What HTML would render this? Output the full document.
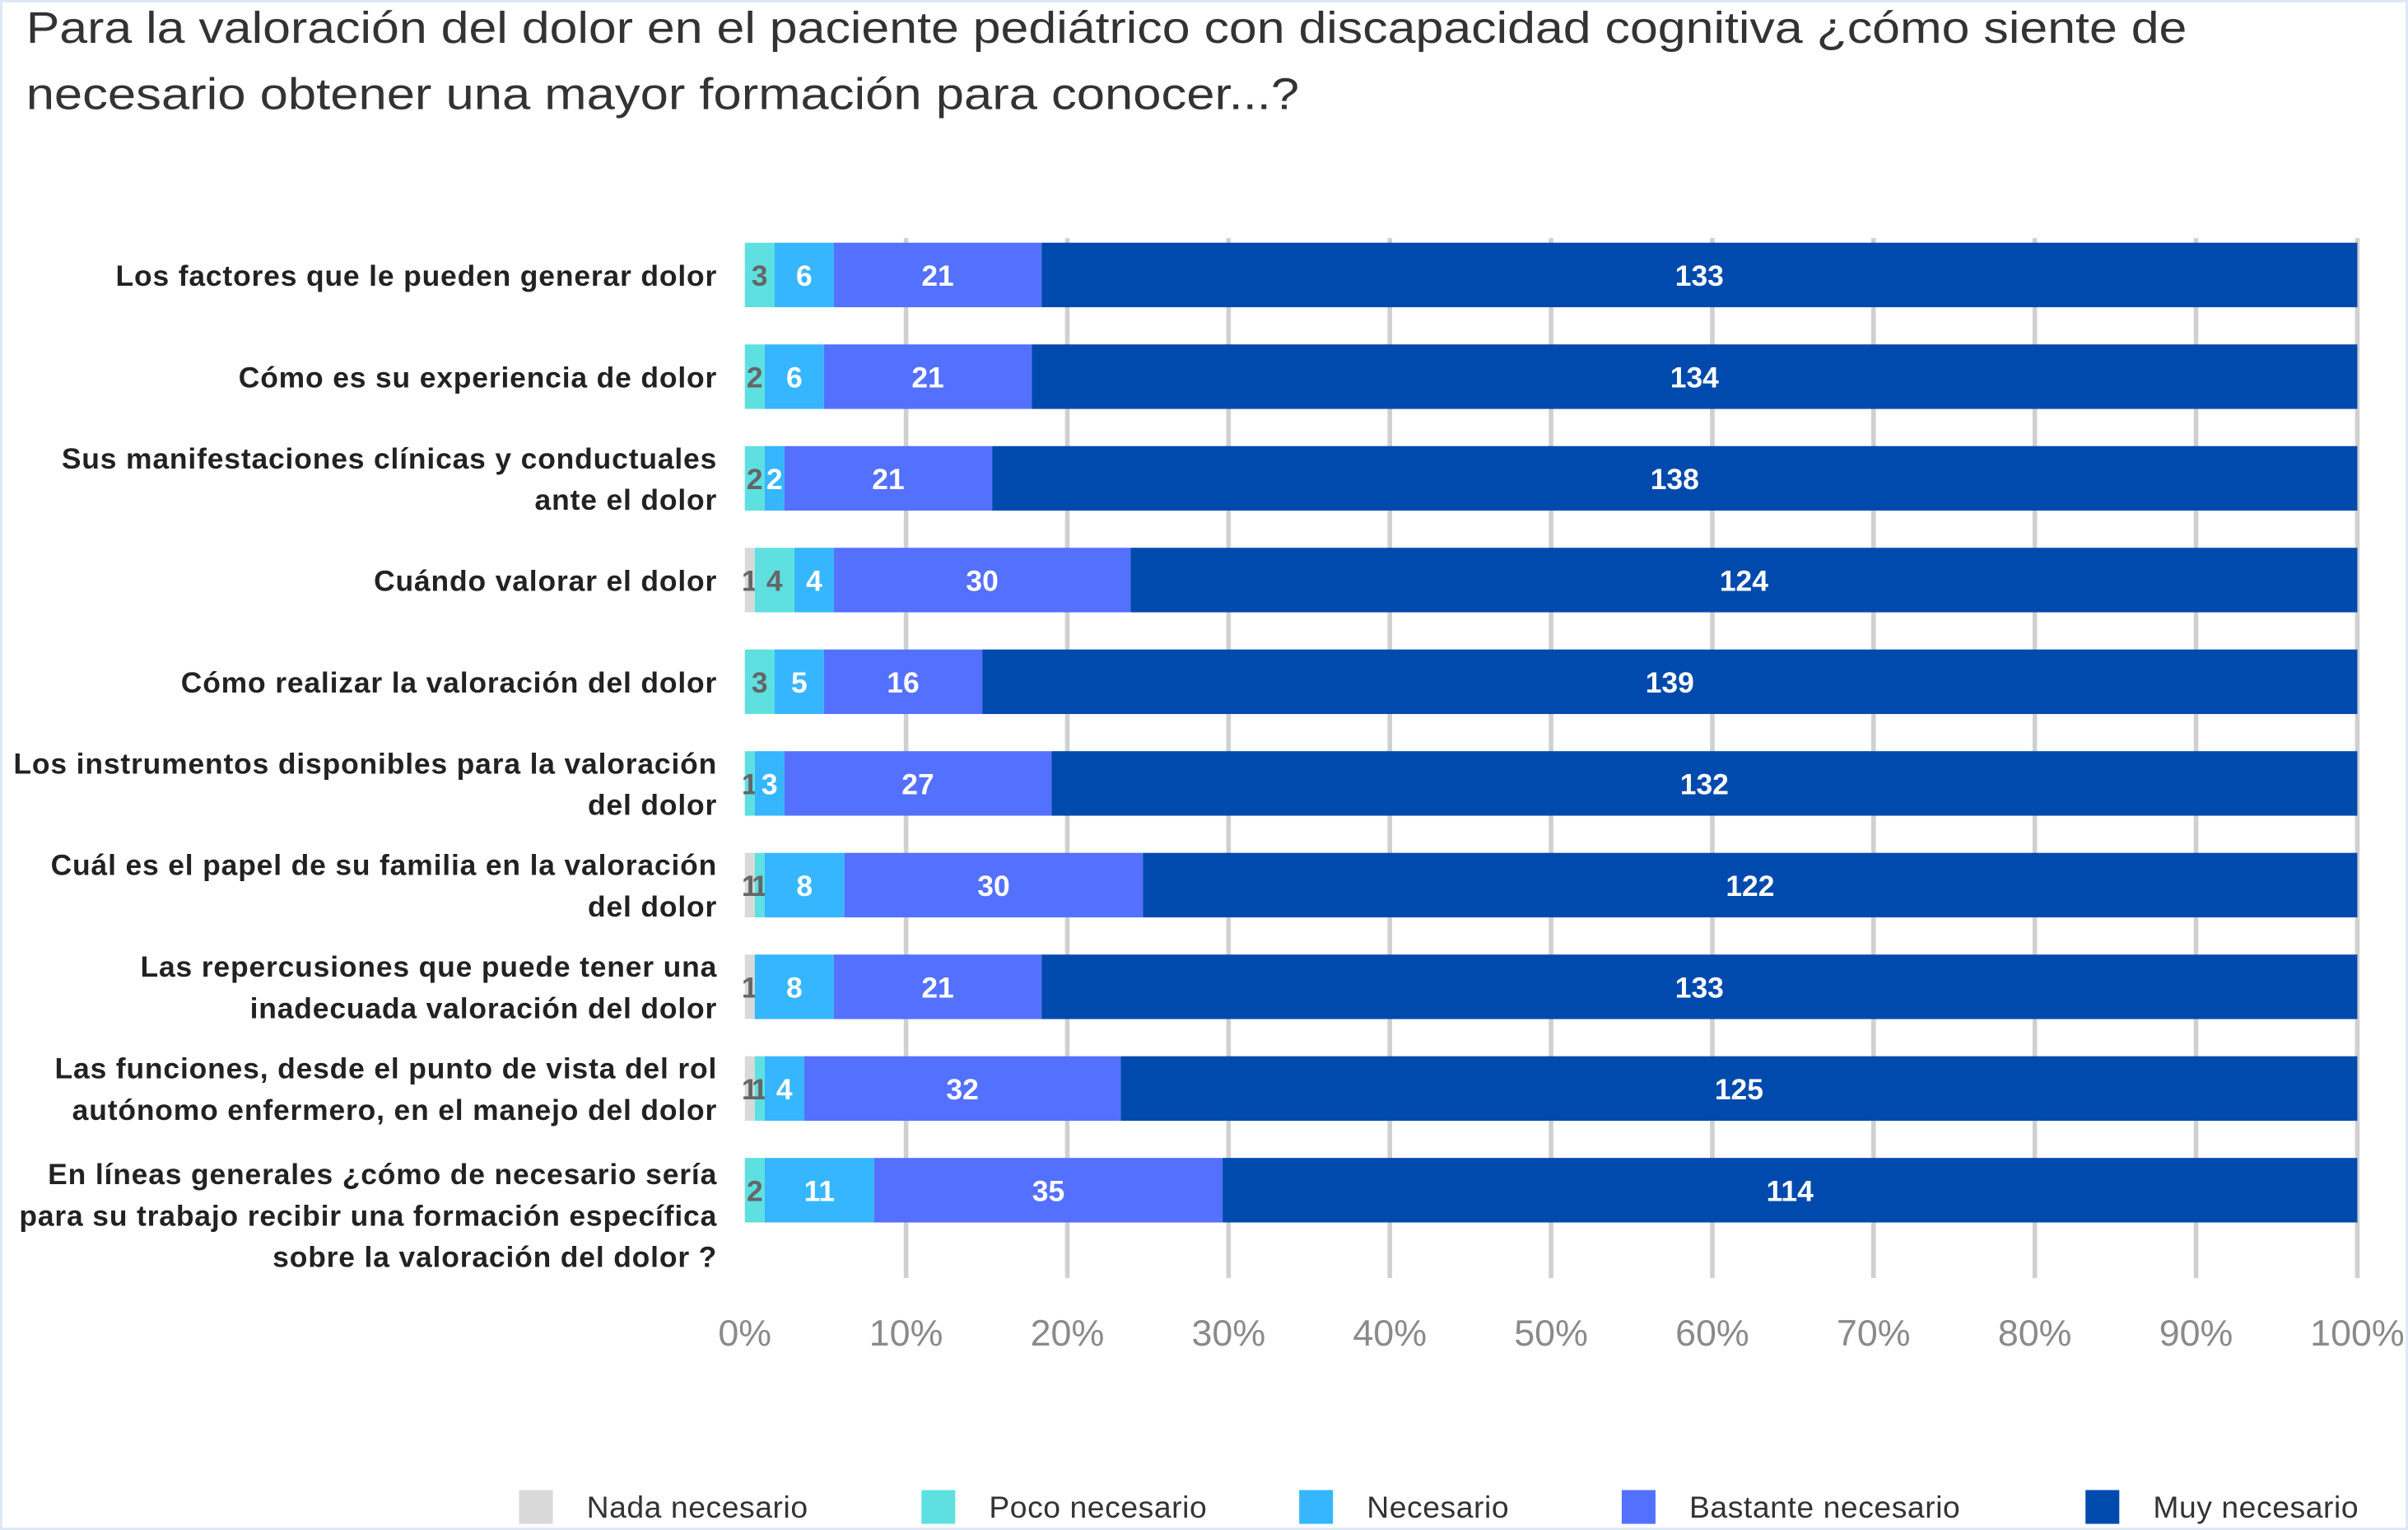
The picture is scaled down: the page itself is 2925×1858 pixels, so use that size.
<!DOCTYPE html>
<html><head><meta charset="utf-8"><style>
html,body{margin:0;padding:0;background:#fff;}
svg{display:block;}
text{font-family:"Liberation Sans",sans-serif;}
</style></head><body>
<svg id="chart" width="2925" height="1858" viewBox="0 0 1568 996" preserveAspectRatio="none" xmlns="http://www.w3.org/2000/svg">
<rect x="0.5" y="0.5" width="1567" height="995" fill="#fff" stroke="#dce8f6" stroke-width="2"/>
<text x="17" y="28" font-size="29" fill="#333" textLength="1407" lengthAdjust="spacingAndGlyphs">Para la valoración del dolor en el paciente pediátrico con discapacidad cognitiva ¿cómo siente de</text>
<text x="17" y="71" font-size="29" fill="#333" textLength="829" lengthAdjust="spacingAndGlyphs">necesario obtener una mayor formación para conocer...?</text>
<g id="grid"></g><g id="bars"></g><g id="labels"></g><g id="ticks"></g><g id="legend"></g>
</svg>
<script>
const categories = [
 ["Los factores que le pueden generar dolor"],
 ["Cómo es su experiencia de dolor"],
 ["Sus manifestaciones clínicas y conductuales","ante el dolor"],
 ["Cuándo valorar el dolor"],
 ["Cómo realizar la valoración del dolor"],
 ["Los instrumentos  disponibles para la valoración","del dolor"],
 ["Cuál es el papel de su familia en la valoración","del dolor"],
 ["Las repercusiones que puede tener una","inadecuada valoración del dolor"],
 ["Las funciones, desde el punto de vista del rol","autónomo enfermero, en el manejo del dolor"],
 ["En líneas generales ¿cómo de necesario sería","para su trabajo recibir una formación específica","sobre la valoración del dolor ?"]
];
const seriesNames = ["Nada necesario","Poco necesario","Necesario","Bastante necesario","Muy necesario"];
const nada      = [0,0,0,1,0,0,1,1,1,0];
const poco      = [3,2,2,4,3,1,1,0,1,2];
const necesario = [6,6,2,4,5,3,8,8,4,11];
const bastante  = [21,21,21,30,16,27,30,21,32,35];
const muy       = [133,134,138,124,139,132,122,133,125,114];
const tickLabels = ["0%","10%","20%","30%","40%","50%","60%","70%","80%","90%","100%"];

const colors = ["#d9d9d9","#5ee0e0","#36b6ff","#5470ff","#004aad"];
const textColors = ["#666","#666","#fff","#fff","#fff"];
const NS = "http://www.w3.org/2000/svg";
const X0 = 485, X1 = 1535, Y0 = 179, STEP = 66.2, BH = 42;
const xScale = p => X0 + p * (X1 - X0);
const yScale = i => Y0 + i * STEP;
function mk(tag, attrs, parent){ const e=document.createElementNS(NS,tag); for(const k in attrs) e.setAttribute(k,attrs[k]); parent.appendChild(e); return e; }
const grid=document.getElementById('grid'), bars=document.getElementById('bars'), labels=document.getElementById('labels'), ticks=document.getElementById('ticks'), legend=document.getElementById('legend');
tickLabels.forEach((t,k)=>{
  const x=xScale(k/10);
  if(k>0){ const l=mk('line',{x1:x,x2:x,y1:155,y2:832,stroke:'#d0d0d0','stroke-width':3},grid);
  
   }
  const tx=mk('text',{x:x,y:876,'font-size':24,fill:'#8a8a8a','text-anchor':'middle'},ticks);
  tx.textContent=t;
  
  
});
const series=[nada,poco,necesario,bastante,muy];
categories.forEach((lines,i)=>{
  const yc=yScale(i);
  const vals=series.map(s=>s[i]);
  const tot=vals.reduce((a,b)=>a+b,0);
  let acc=0;
  vals.forEach((v,s)=>{
    if(v<=0) return;
    const xa=xScale(acc/tot), xb=xScale((acc+v)/tot);
    const r=mk('rect',{x:xa,y:yc-BH/2,width:xb-xa,height:BH,fill:colors[s]},bars);
    
    
    const t=mk('text',{x:(xa+xb)/2,y:yc+7,'font-size':19,'font-weight':'bold',fill:textColors[s],'text-anchor':'middle'},bars);
    t.textContent=v;
    
    
    acc+=v;
  });
  const n=lines.length;
  const start = n===3 ? yc-11 : yc-13.5*(n-1);
  lines.forEach((ln,j)=>{
    const t=mk('text',{x:467,y:start+27*j+7,'font-size':19,'font-weight':'bold',fill:'#222','text-anchor':'end','letter-spacing':0.45},labels);
    t.textContent=ln;
    
    
  });
});
const legX=[338,600,846,1056,1358];
seriesNames.forEach((nm,s)=>{
  const r=mk('rect',{x:legX[s],y:970,width:22,height:22,fill:colors[s]},legend);
  
  
  const t=mk('text',{x:legX[s]+44,y:988,'font-size':20,fill:'#333','letter-spacing':0.3},legend);
  t.textContent=nm;
  
  
});
</script>
</body></html>
